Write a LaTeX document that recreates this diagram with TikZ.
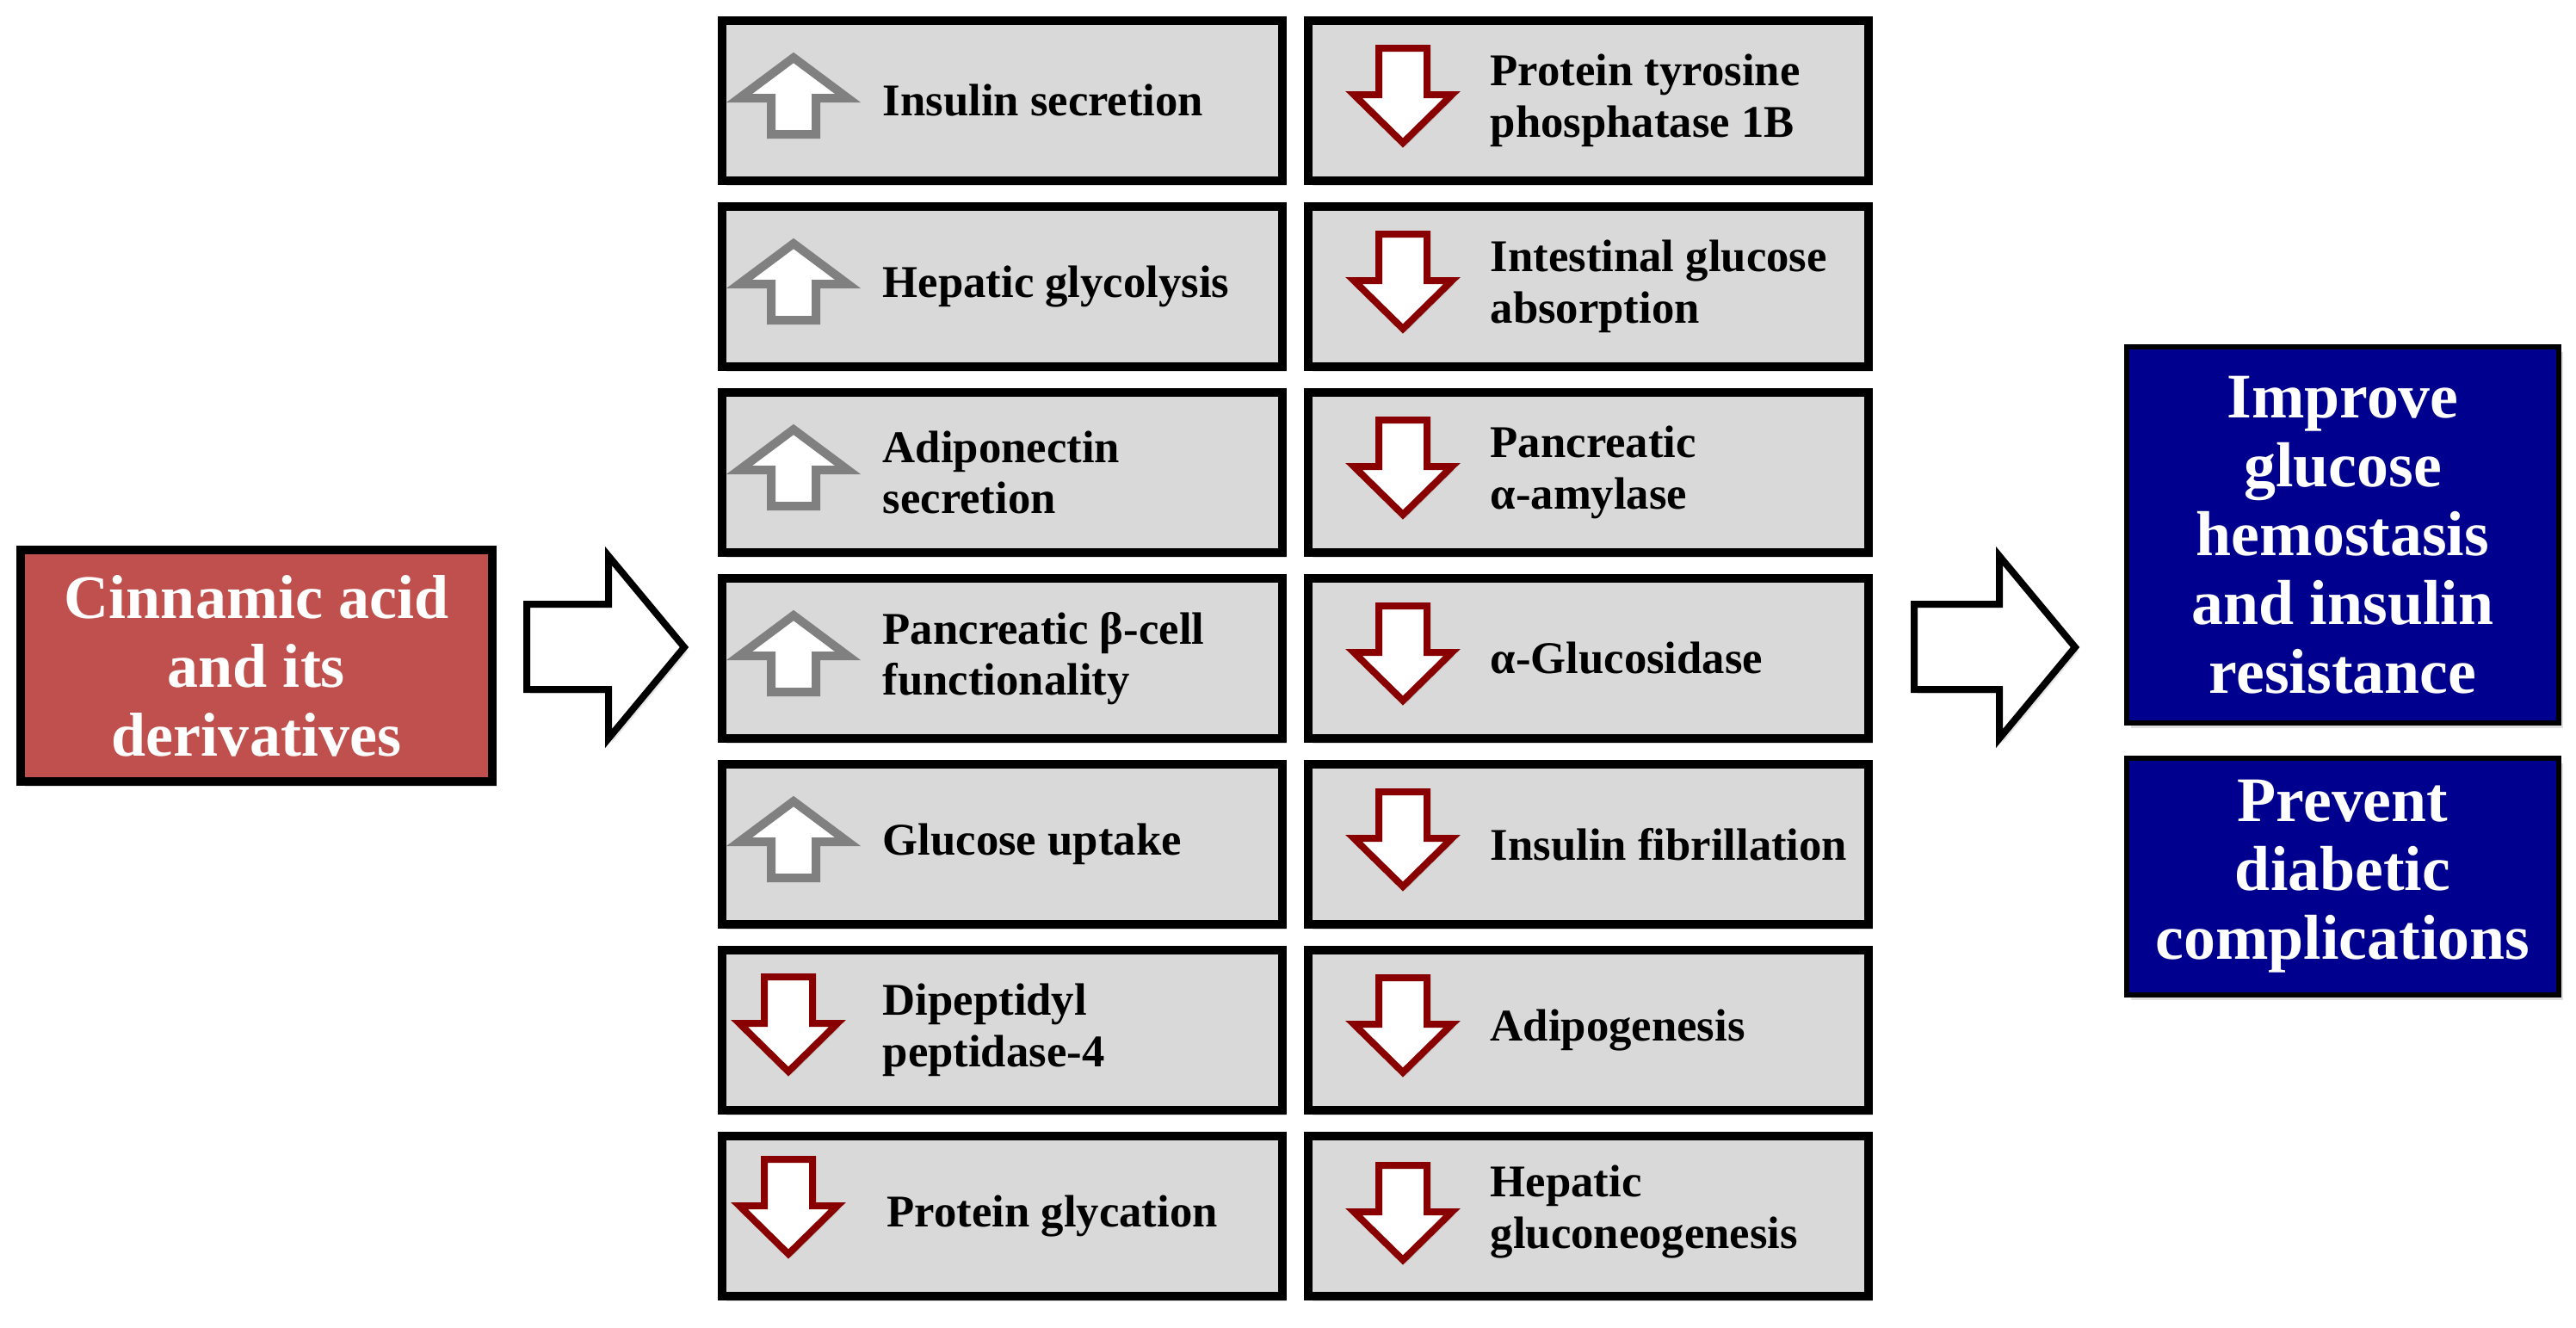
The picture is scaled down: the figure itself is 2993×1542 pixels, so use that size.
\documentclass[tikz,border=0pt]{standalone}
\usepackage{fontspec}
\setmainfont{Liberation Serif}
\usetikzlibrary{shadows}
\definecolor{cellgray}{RGB}{217,217,217}
\definecolor{redbox}{RGB}{192,80,77}
\definecolor{navybox}{RGB}{0,0,142}
\definecolor{upgray}{RGB}{128,128,128}
\definecolor{downred}{RGB}{136,0,0}
\tikzset{
  cellbox/.style={rectangle, draw=black, line width=1mm, fill=cellgray, inner sep=0pt, outer sep=0pt,
    minimum width=65.1mm, minimum height=18.6mm,
    drop shadow={shadow xshift=0.5mm, shadow yshift=-0.6mm, opacity=0.25}},
  celltext/.style={anchor=west, inner sep=0pt, align=left, text=black,
    font=\fontsize{15}{17}\selectfont\bfseries},
  bigbox/.style={rectangle, draw=black, inner sep=0pt, outer sep=0pt, text=white, align=center,
    font=\fontsize{21}{22.8}\selectfont\bfseries,
    drop shadow={shadow xshift=0.5mm, shadow yshift=-0.6mm, opacity=0.25}},
  blockarrow/.style={draw=black, line width=0.8mm, fill=white, line join=miter,
    drop shadow={shadow xshift=0.4mm, shadow yshift=-0.5mm, opacity=0.2}},
  cellup/.pic={\draw[draw=upgray, line width=1mm, fill=white, line join=miter,
      drop shadow={shadow xshift=0.3mm, shadow yshift=-0.4mm, opacity=0.25}]
      (0,-44) -- (63,3) -- (26,3) -- (26,45) -- (-26,45) -- (-26,3) -- (-63,3) -- cycle;},
  celldown/.pic={\draw[draw=downred, line width=0.8mm, fill=white, line join=miter,
      drop shadow={shadow xshift=0.3mm, shadow yshift=-0.4mm, opacity=0.25}]
      (-28,-56) -- (28,-56) -- (28,-2) -- (57,-2) -- (0,54) -- (-57,-2) -- (-28,-2) -- cycle;}
}
\begin{document}
\begin{tikzpicture}[x=0.1mm, y=-0.1mm]
\fill[white] (0,0) rectangle (2993,1542);
\useasboundingbox (0,0) rectangle (2993,1542);

% source box
\node[bigbox, fill=redbox, line width=1mm, minimum width=54.8mm, minimum height=26.9mm,
  font=\fontsize{20.5}{22.8}\selectfont\bfseries]
  (src) at (298,773.5) {Cinnamic acid\\and its\\derivatives};

% outcome boxes
\node[bigbox, fill=navybox, line width=0.6mm, minimum width=50.2mm, minimum height=43.7mm]
  (out1) at (2722,621.5) {Improve\\glucose\\hemostasis\\and insulin\\resistance};
\node[bigbox, fill=navybox, line width=0.6mm, minimum width=50.2mm, minimum height=27.5mm]
  (out2) at (2722,1018.5) {Prevent\\diabetic\\complications};

% column 1 cells
\node[cellbox] (L1) at (1164.5,117) {};
\node[cellbox] (L2) at (1164.5,333) {};
\node[cellbox] (L3) at (1164.5,549) {};
\node[cellbox] (L4) at (1164.5,765) {};
\node[cellbox] (L5) at (1164.5,981) {};
\node[cellbox] (L6) at (1164.5,1197) {};
\node[cellbox] (L7) at (1164.5,1413) {};
% column 2 cells
\node[cellbox] (R1) at (1845,117) {};
\node[cellbox] (R2) at (1845,333) {};
\node[cellbox] (R3) at (1845,549) {};
\node[cellbox] (R4) at (1845,765) {};
\node[cellbox] (R5) at (1845,981) {};
\node[cellbox] (R6) at (1845,1197) {};
\node[cellbox] (R7) at (1845,1413) {};

% arrows in cells
\pic at (922,111) {cellup};
\pic at (922,327) {cellup};
\pic at (922,543) {cellup};
\pic at (922,759) {cellup};
\pic at (922,975) {cellup};
\pic at (916,1191) {celldown};
\pic at (916,1403) {celldown};
\foreach \cy in {112,328,544,760,976,1192,1410} {
  \pic at (1630,\cy) {celldown};
}

% texts column 1
\node[celltext] (tL1) at (1025,117) {Insulin secretion};
\node[celltext] (tL2) at (1025,333) {Hepatic glycolysis};
\node[celltext] (tL3) at (1025,549) {Adiponectin\\secretion};
\node[celltext] (tL4) at (1025,765) {Pancreatic β-cell\\functionality};
\node[celltext] (tL5) at (1025,981) {Glucose uptake};
\node[celltext] (tL6) at (1025,1197) {Dipeptidyl\\peptidase-4};
\node[celltext] (tL7) at (1030,1413) {Protein glycation};
% texts column 2
\node[celltext] (tR1) at (1731,117) {Protein tyrosine\\phosphatase 1B};
\node[celltext] (tR2) at (1731,333) {Intestinal glucose\\absorption};
\node[celltext] (tR3) at (1731,549) {Pancreatic\\α-amylase};
\node[celltext] (tR4) at (1731,765) {α-Glucosidase};
\node[celltext] (tR5) at (1731,981) {Insulin fibrillation};
\node[celltext] (tR6) at (1731,1197) {Adipogenesis};
\node[celltext] (tR7) at (1731,1408) {Hepatic\\gluconeogenesis};

% block arrows
\draw[blockarrow] (612,702) -- (707,702) -- (707,646) -- (795,752) -- (707,858) -- (707,801) -- (612,801) -- cycle;
\draw[blockarrow] (2224,702) -- (2323,702) -- (2323,646) -- (2411,752) -- (2323,858) -- (2323,801) -- (2224,801) -- cycle;
\end{tikzpicture}
\end{document}
